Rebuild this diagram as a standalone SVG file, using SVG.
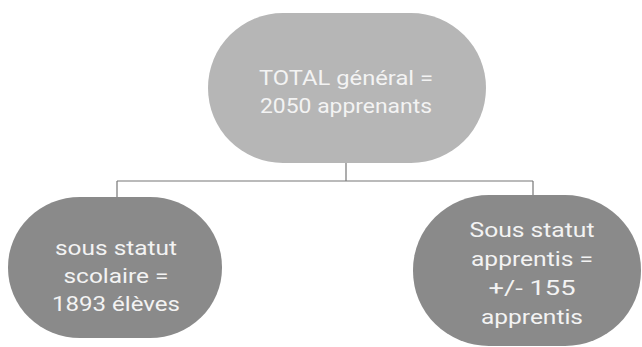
<svg xmlns="http://www.w3.org/2000/svg" width="642" height="347" viewBox="0 0 642 347">
<style>
.top{fill:#b6b6b6}
.sub{fill:#8a8a8a}
.t{font-family:Roboto,"Liberation Sans",sans-serif;font-size:21px;fill:#f3f3f3;text-anchor:middle}
.c{stroke:#777;stroke-width:1.2;fill:none}
</style>
<rect width="642" height="347" fill="#ffffff"/>
<g id="connectors">
<path class="c" d="M346 163V181M117 181H533M117 181V197M533 181V195"/>
</g>
<g id="total">
<rect class="top" x="208" y="13" width="278" height="150" rx="75" ry="75"/>
<text class="t" x="346" y="85" textLength="174" lengthAdjust="spacingAndGlyphs">TOTAL général =</text>
<text class="t" x="346" y="113" textLength="172" lengthAdjust="spacingAndGlyphs">2050 apprenants</text>
</g>
<g id="scolaire">
<rect class="sub" x="8" y="197" width="214" height="141" rx="72" ry="70"/>
<text class="t" x="116" y="255" textLength="122" lengthAdjust="spacingAndGlyphs">sous statut</text>
<text class="t" x="116" y="283" textLength="105" lengthAdjust="spacingAndGlyphs">scolaire =</text>
<text class="t" x="116" y="311" textLength="128" lengthAdjust="spacingAndGlyphs">1893 élèves</text>
</g>
<g id="apprentis">
<rect class="sub" x="413" y="195" width="228" height="151" rx="76" ry="75"/>
<text class="t" x="532" y="237" textLength="125" lengthAdjust="spacingAndGlyphs">Sous statut</text>
<text class="t" x="532" y="266" textLength="122" lengthAdjust="spacingAndGlyphs">apprentis =</text>
<text class="t" x="532" y="295" textLength="87" lengthAdjust="spacingAndGlyphs">+/- 155</text>
<text class="t" x="532" y="324" textLength="102" lengthAdjust="spacingAndGlyphs">apprentis</text>
</g>
</svg>
